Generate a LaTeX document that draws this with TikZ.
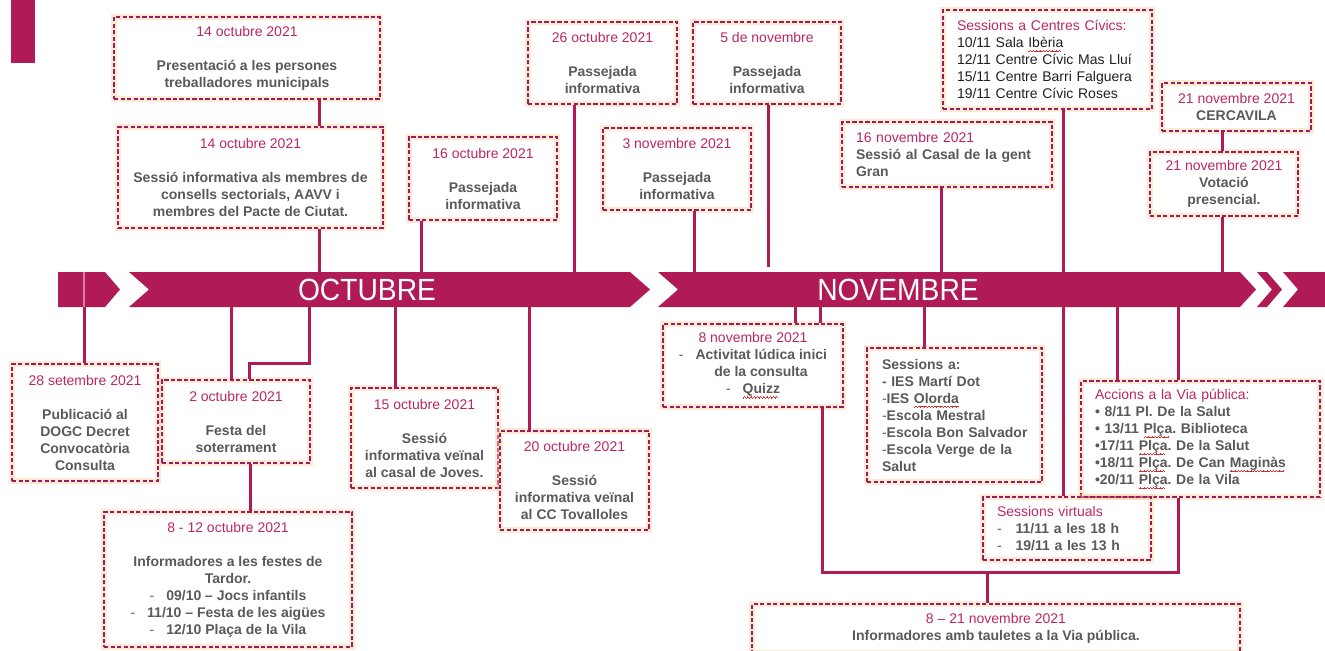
\documentclass[tikz,border=0pt]{standalone}
\usepackage{fontspec}
\setmainfont{Liberation Sans}
\newfontfamily\narrowfont{Liberation Sans}[FakeStretch=0.92]
\frenchspacing
\definecolor{mag}{RGB}{176,27,85}
\definecolor{datec}{RGB}{188,38,98}
\definecolor{txtgray}{RGB}{89,89,89}
\definecolor{glowc}{RGB}{250,208,160}
\definecolor{squig}{RGB}{225,40,40}
\definecolor{dashc}{RGB}{155,28,95}
\newsavebox\spbox
\newcommand\wavebit{\rule[-3.3pt]{0.6pt}{0.45pt}\rule[-2.85pt]{0.6pt}{0.45pt}\rule[-2.4pt]{0.6pt}{0.45pt}\rule[-2.85pt]{0.6pt}{0.45pt}}
\newcommand\spell[1]{\sbox\spbox{#1}\rlap{\textcolor{squig}{\hbox to\wd\spbox{\leaders\hbox{\wavebit}\hfill}}}\usebox\spbox}
\newcommand\dt[1]{\textcolor{datec}{\mdseries #1}}
\newcommand\rg[1]{\textcolor{black!88}{\mdseries #1}}
\newcommand\bul[1]{{\mdseries -}\hspace{#1}}
\tikzset{
  tbox/.style={draw=dashc, line width=1.15pt, dash pattern=on 3.2pt off 1.7pt,
    preaction={draw=glowc, line width=4pt, opacity=0.45, solid},
    inner sep=0pt, font=\fontsize{10.5}{12.75}\selectfont\bfseries, text=txtgray},
  conn/.style={draw=mag, line width=2.25pt},
  month/.style={text=white, font=\narrowfont\fontsize{23}{23}\selectfont, inner sep=0pt},
  bandseg/.style={fill=mag},
}
\newcommand\cbox[6]{%
  \pgfmathsetmacro\tlBW{(#4-#2)*0.75}%
  \pgfmathsetmacro\tlBH{(#5-#3)*0.75}%
  \node[tbox, align=center, minimum width=\tlBW pt, minimum height=\tlBH pt] (#1) at ({(#2+#4)/2},{(#3+#5)/2}) {#6};}
\newcommand\lbox[7]{%
  \pgfmathsetmacro\tlBW{(#4-#2)*0.75}%
  \pgfmathsetmacro\tlBH{(#5-#3)*0.75}%
  \pgfmathsetmacro\tlPX{#6*0.75}%
  \node[tbox, align=left, text width=\tlBW pt, inner xsep=0pt, minimum width=\tlBW pt, minimum height=\tlBH pt] (#1) at ({(#2+#4)/2},{(#3+#5)/2}) {\leftskip=\tlPX pt\relax\hyphenpenalty=10000\relax #7\par};}
\begin{document}
\begin{tikzpicture}[x=0.75pt,y=-0.75pt]
\useasboundingbox (0,0) rectangle (1325,650);
\fill[mag] (11,0) rectangle (35,63);
% ---------- boxes above the band
\cbox{A}{114}{17}{380}{99}{\dt{14 octubre 2021}\\[12.75pt]Presentació a les persones\\treballadores municipals}
\cbox{B}{118}{127}{383}{228}{\dt{14 octubre 2021}\\[12.75pt]Sessió informativa als membres de\\consells sectorials, AAVV i\\membres del Pacte de Ciutat.}
\cbox{C}{409}{137}{557}{220}{\dt{16 octubre 2021}\\[12.75pt]Passejada\\informativa}
\cbox{D}{528}{22}{677}{104}{\dt{26 octubre 2021}\\[12.75pt]Passejada\\informativa}
\cbox{E}{603}{128}{751}{210}{\dt{3 novembre 2021}\\[12.75pt]Passejada\\informativa}
\cbox{F}{693}{22}{841}{104}{\dt{5 de novembre}\\[12.75pt]Passejada\\informativa}
\lbox{G}{943}{10}{1152}{109}{14}{\dt{Sessions a Centres Cívics:}\\\rg{10/11 Sala \spell{Ibèria}}\\\rg{12/11 Centre Cívic Mas Lluí}\\\rg{15/11 Centre Barri Falguera}\\\rg{19/11 Centre Cívic Roses}}
\lbox{H}{842}{122}{1052}{187}{14}{\dt{16 novembre 2021}\\Sessió al Casal de la gent\\Gran}
\cbox{I}{1162}{83}{1311}{131}{\dt{21 novembre 2021}\\CERCAVILA}
\cbox{J}{1150}{152}{1298}{216}{\dt{21 novembre 2021}\\Votació\\presencial.}
% ---------- boxes below the band
\cbox{K}{12}{364}{158}{481}{\dt{28 setembre 2021}\\[12.75pt]Publicació al\\DOGC Decret\\Convocatòria\\Consulta}
\cbox{L}{162}{380}{310}{463}{\dt{2 octubre 2021}\\[12.75pt]Festa del\\soterrament}
\cbox{M}{104}{512}{352}{647}{\dt{8 - 12 octubre 2021}\\[12.75pt]Informadores a les festes de\\Tardor.\\\bul{9pt}09/10 – Jocs infantils\\\bul{9pt}11/10 – Festa de les aigües\\\bul{9pt}12/10 Plaça de la Vila}
\cbox{N}{351}{388}{498}{488}{\dt{15 octubre 2021}\\[12.75pt]Sessió\\informativa veïnal\\al casal de Joves.}
\cbox{O}{500}{431}{649}{530}{\dt{20 octubre 2021}\\[12.75pt]Sessió\\informativa veïnal\\al CC Tovalloles}
\cbox{P}{663}{324}{843}{407}{\dt{8 novembre 2021}\\\bul{9pt}Activitat lúdica inici\\\hspace*{12pt}de la consulta\\\bul{9pt}\spell{Quizz}}
\lbox{Q}{867}{348}{1042}{482}{15}{Sessions a:\\- IES Martí Dot\\{\mdseries-}IES \spell{Olorda}\\{\mdseries-}Escola Mestral\\{\mdseries-}Escola Bon Salvador\\{\mdseries-}Escola Verge de la\\Salut}
\lbox{R}{1081}{381}{1320}{497}{14}{\dt{Accions a la Via pública:}\\• 8/11 Pl. De la Salut\\• 13/11 \spell{Plça}. Biblioteca\\•17/11 \spell{Plça}. De la Salut\\•18/11 \spell{Plça}. De Can \spell{Maginàs}\\•20/11 \spell{Plça}. De la Vila}
\lbox{S}{983}{497}{1151}{560}{14}{\dt{Sessions virtuals}\\\bul{10.5pt}11/11 a les 18 h\\\bul{10.5pt}19/11 a les 13 h}
\cbox{T}{752}{604}{1240}{653}{\dt{8 – 21 novembre 2021}\\Informadores amb tauletes a la Via pública.}
% ---------- rails
\coordinate (btop) at (0,272);
\coordinate (bbot) at (0,307);
\coordinate (xa) at (319,0);
\coordinate (xc) at (421,0);
\coordinate (xd) at (574,0);
\coordinate (xe) at (694,0);
\coordinate (xf) at (768,267);
\coordinate (xg) at (1063,0);
\coordinate (xh) at (941,0);
\coordinate (xi) at (1222,0);
\coordinate (xk) at (84,0);
\coordinate (xl1) at (231,0);
\coordinate (xl2) at (249,0);
\coordinate (kn) at (309,363);
\coordinate (xm) at (250,0);
\coordinate (xn) at (395,0);
\coordinate (xo) at (529,0);
\coordinate (xp1) at (795,0);
\coordinate (xp2) at (820,0);
\coordinate (xp3) at (822,0);
\coordinate (xq) at (924,0);
\coordinate (xr1) at (1117,0);
\coordinate (xr2) at (1178,0);
\coordinate (hb) at (987,572);
% ---------- connectors
\draw[conn] (A.south -| xa) -- (B.north -| xa);
\draw[conn] (B.south -| xa) -- (btop -| xa);
\draw[conn] (C.south -| xc) -- (btop -| xc);
\draw[conn] (D.south -| xd) -- (btop -| xd);
\draw[conn] (E.south -| xe) -- (btop -| xe);
\draw[conn] (F.south -| xf) -- (xf);
\draw[conn] (G.south -| xg) -- (S.north -| xg);
\draw[conn] (H.south -| xh) -- (btop -| xh);
\draw[conn] (I.south -| xi) -- (J.north -| xi);
\draw[conn] (J.south -| xi) -- (btop -| xi);
\draw[conn] (bbot -| xk) -- (K.north -| xk);
\draw[conn] (bbot -| xl1) -- (L.north -| xl1);
\draw[conn] (L.north -| xl2) |- (kn) -- (bbot -| kn);
\draw[conn] (L.south -| xm) -- (M.north -| xm);
\draw[conn] (bbot -| xn) -- (N.north -| xn);
\draw[conn] (bbot -| xo) -- (O.north -| xo);
\draw[conn] (bbot -| xp1) -- (P.north -| xp1);
\draw[conn] (bbot -| xp2) -- (P.north -| xp2);
\draw[conn] (bbot -| xq) -- (Q.north -| xq);
\draw[conn] (bbot -| xr1) -- (R.north -| xr1);
\draw[conn] (bbot -| xr2) -- (R.north -| xr2);
\draw[conn] (P.south -| xp3) |- (hb) -| (R.south -| xr2);
\draw[conn] (hb) -- (T.north -| hb);
% ---------- band
\fill[bandseg] (58,272) -- (105,272) -- (120,289.5) -- (105,307) -- (58,307) -- cycle;
\fill[bandseg] (129,272) -- (630,272) -- (650,289.5) -- (630,307) -- (129,307) -- (149,289.5) -- cycle;
\fill[bandseg] (658,272) -- (1240,272) -- (1256,289.5) -- (1240,307) -- (658,307) -- (678,289.5) -- cycle;
\fill[bandseg] (1257,272) -- (1267,272) -- (1282,289.5) -- (1267,307) -- (1257,307) -- (1272,289.5) -- cycle;
\fill[bandseg] (1283,272) -- (1325,272) -- (1325,307) -- (1283,307) -- (1298,289.5) -- cycle;
\draw[white, opacity=0.45, line width=1.5pt] (btop -| xk) -- (bbot -| xk);
\node[month] (oct) at (367,290) {OCTUBRE};
\node[month] (nov) at (898,290) {NOVEMBRE};
\end{tikzpicture}
\end{document}
